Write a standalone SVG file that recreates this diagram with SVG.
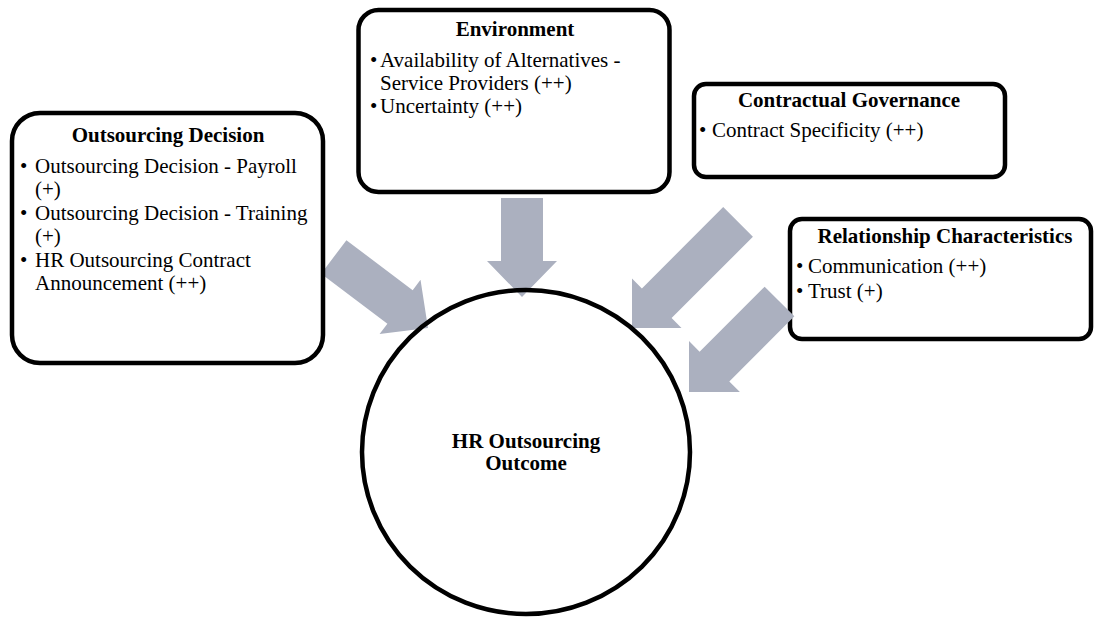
<svg xmlns="http://www.w3.org/2000/svg" width="1095" height="617" viewBox="0 0 1095 617">
<style>
.box{fill:#ffffff;stroke:#000000;stroke-width:4.5}
.ring{fill:none;stroke:#000000;stroke-width:4.5}
.arr{fill:#abb0bf;stroke:none}
text{font-family:"Liberation Serif","Times New Roman",serif;font-size:21px;fill:#000000}
.t{font-weight:bold;text-anchor:middle}
</style>
<rect width="1095" height="617" fill="#ffffff"/>
<g id="relationship">
<rect class="box" x="790" y="219" width="301" height="120" rx="12"/>
<text class="t" x="945" y="243">Relationship Characteristics</text>
<text x="796" y="273">•</text><text x="808" y="273">Communication (++)</text>
<text x="796" y="298">•</text><text x="808" y="298">Trust (+)</text>
</g>
<g id="connectors">
<polygon class="arr" transform="translate(428,328) rotate(37)" points="-118,-21 -35,-21 -35,-34 0,0 -35,34 -35,21 -118,21"/>
<polygon class="arr" transform="translate(522,297) rotate(90)" points="-99,-21 -36,-21 -36,-35 0,0 -36,35 -36,21 -99,21"/>
<polygon class="arr" transform="translate(632,328) rotate(135)" points="-150,-21 -35,-21 -35,-35 0,0 -35,35 -35,21 -150,21"/>
<polygon class="arr" transform="translate(689,392) rotate(135)" points="-128,-21 -36,-21 -36,-36 0,0 -36,36 -36,21 -128,21"/>
</g>
<g id="outsourcing">
<rect class="box" x="12" y="113" width="311" height="250" rx="28"/>
<text class="t" x="168" y="142">Outsourcing Decision</text>
<text x="20" y="173">•</text><text x="35" y="173">Outsourcing Decision - Payroll</text>
<text x="35" y="195.5">(+)</text>
<text x="20" y="220">•</text><text x="35" y="220">Outsourcing Decision - Training</text>
<text x="35" y="242.5">(+)</text>
<text x="20" y="267">•</text><text x="35" y="267">HR Outsourcing Contract</text>
<text x="35" y="289.5">Announcement (++)</text>
</g>
<g id="environment">
<rect class="box" x="358.5" y="10" width="311" height="182" rx="20"/>
<text class="t" x="515" y="36">Environment</text>
<text x="370" y="67">•</text><text x="380" y="67">Availability of Alternatives -</text>
<text x="380" y="89.5">Service Providers (++)</text>
<text x="370" y="113">•</text><text x="380" y="113">Uncertainty  (++)</text>
</g>
<g id="contractual">
<rect class="box" x="694" y="84" width="311" height="93" rx="12"/>
<text class="t" x="849" y="107">Contractual Governance</text>
<text x="699" y="137">•</text><text x="712" y="137">Contract Specificity (++)</text>
</g>
<g id="outcome">
<ellipse class="ring" cx="526" cy="452" rx="164" ry="162"/>
<text class="t" x="526" y="448">HR Outsourcing</text>
<text class="t" x="526" y="470">Outcome</text>
</g>
</svg>
